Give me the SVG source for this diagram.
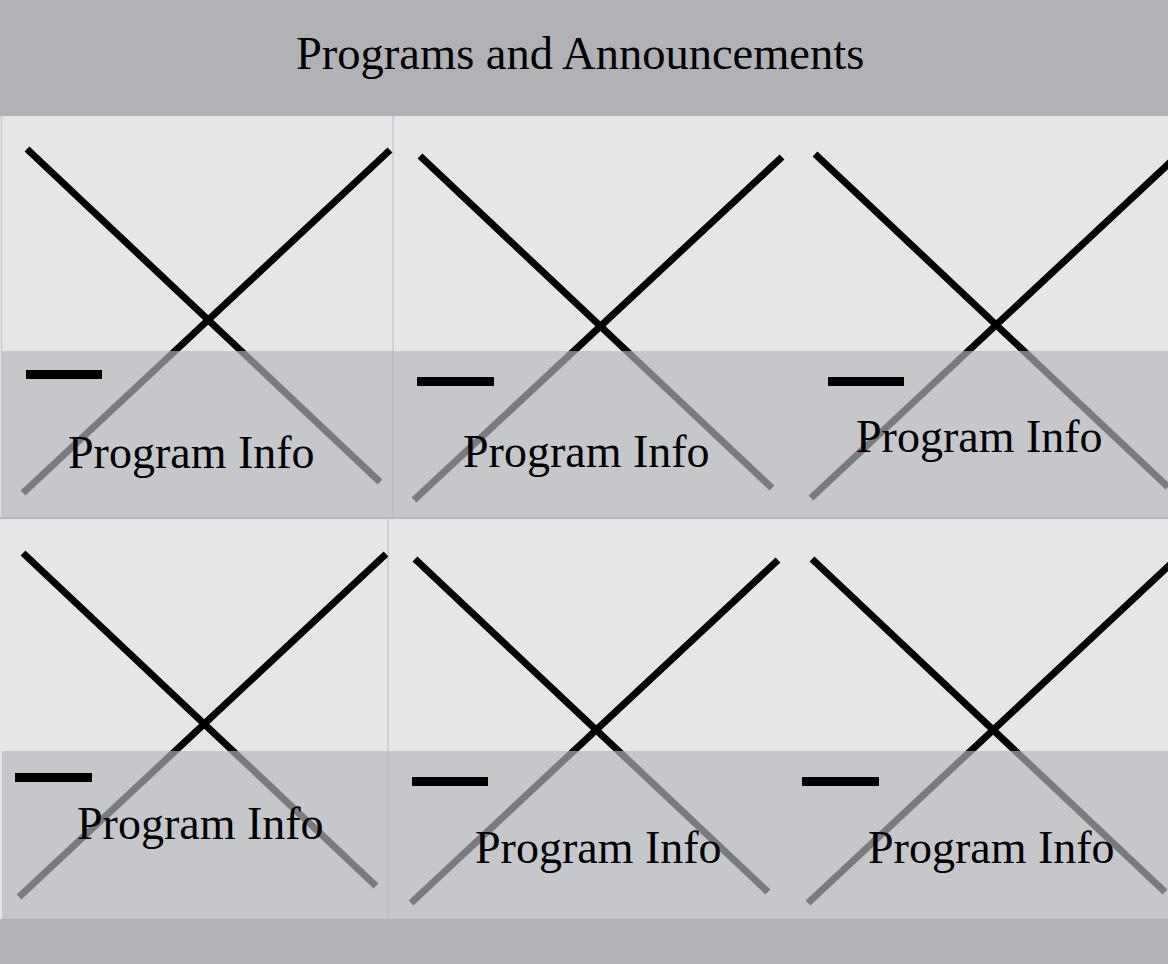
<svg xmlns="http://www.w3.org/2000/svg" width="1168" height="964" viewBox="0 0 1168 964">
<style>
.band{fill:#b1b2b6}
.panel{fill:#e6e6e6}
.ov{fill:rgb(182,184,190);fill-opacity:0.67}
.x{stroke:#000;stroke-width:7;fill:none;stroke-linecap:butt}
.dash{fill:#000}
.sep{stroke:#c9c9cb;stroke-width:1.5}
.lbl{font-family:"Liberation Serif","Times New Roman",serif;font-size:46px;fill:#000}
</style>
<rect width="1168" height="964" class="panel"/>
<g id="header">
<rect x="0" y="0" width="1168" height="116" class="band"/>
<text x="296" y="69" class="lbl" style="font-size:46.5px">Programs and Announcements</text>
</g>
<g id="footer">
<rect x="0" y="919" width="1168" height="45" class="band"/>
</g>
<g id="separators">
<line x1="1.5" y1="116" x2="1.5" y2="517" class="sep"/>
<line x1="393" y1="116" x2="393" y2="517" class="sep"/>
<line x1="388" y1="519" x2="388" y2="919" class="sep"/>
<line x1="0" y1="518" x2="1168" y2="518" stroke="#b6b7ba" stroke-width="2"/>
</g>
<g id="cell-1-1">
<line x1="27" y1="149" x2="380" y2="482" class="x"/>
<line x1="390" y1="150" x2="23" y2="493" class="x"/>
<rect x="2" y="351" width="391" height="166" class="ov"/>
<rect x="26" y="370" width="76" height="9" class="dash"/>
<text x="68" y="468" class="lbl">Program Info</text>
</g>
<g id="cell-1-2">
<line x1="420" y1="156" x2="772" y2="488" class="x"/>
<line x1="782" y1="157" x2="414" y2="500" class="x"/>
<rect x="393" y="351" width="391" height="166" class="ov"/>
<rect x="417" y="377" width="77" height="9" class="dash"/>
<text x="463" y="467" class="lbl">Program Info</text>
</g>
<g id="cell-1-3">
<line x1="815" y1="154" x2="1168" y2="487" class="x"/>
<line x1="1178" y1="155" x2="811" y2="498" class="x"/>
<rect x="784" y="351" width="384" height="166" class="ov"/>
<rect x="828" y="377" width="76" height="9" class="dash"/>
<text x="856" y="452" class="lbl">Program Info</text>
</g>
<g id="cell-2-1">
<line x1="23" y1="553" x2="376" y2="886" class="x"/>
<line x1="386" y1="554" x2="19" y2="897" class="x"/>
<rect x="2" y="751" width="394" height="168" class="ov"/>
<rect x="15" y="773" width="77" height="9" class="dash"/>
<text x="77" y="839" class="lbl">Program Info</text>
</g>
<g id="cell-2-2">
<line x1="415" y1="559" x2="768" y2="892" class="x"/>
<line x1="778" y1="560" x2="411" y2="903" class="x"/>
<rect x="396" y="751" width="386" height="168" class="ov"/>
<rect x="412" y="777" width="76" height="9" class="dash"/>
<text x="475" y="863" class="lbl">Program Info</text>
</g>
<g id="cell-2-3">
<line x1="812" y1="559" x2="1165" y2="892" class="x"/>
<line x1="1175" y1="560" x2="808" y2="903" class="x"/>
<rect x="782" y="751" width="386" height="168" class="ov"/>
<rect x="802" y="777" width="77" height="9" class="dash"/>
<text x="868" y="863" class="lbl">Program Info</text>
</g>
</svg>
